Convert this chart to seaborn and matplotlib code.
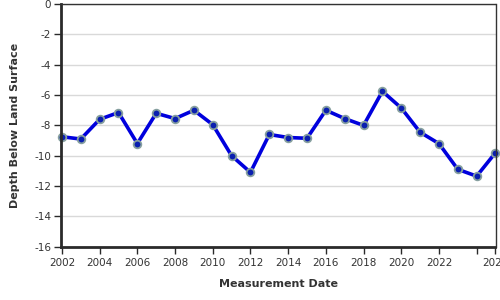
import matplotlib
matplotlib.use("Agg")
import matplotlib.pyplot as plt
import seaborn as sns
import pandas as pd

years = [2002, 2003, 2004, 2005, 2006, 2007, 2008, 2009, 2010, 2011, 2012, 2013,
         2014, 2015, 2016, 2017, 2018, 2019, 2020, 2021, 2022, 2023, 2024, 2025]
depth = [-8.75, -8.9, -7.6, -7.15, -9.2, -7.2, -7.55, -7.0, -7.95, -10.0, -11.1, -8.6,
         -8.8, -8.85, -7.0, -7.55, -8.0, -5.75, -6.85, -8.45, -9.2, -10.9, -11.35, -9.8]
xtick_vals = [2002, 2004, 2006, 2008, 2010, 2012, 2014, 2016, 2018, 2020, 2022, 2024, 2025]
xtick_labels = ["2002", "2004", "2006", "2008", "2010", "2012", "2014", "2016", "2018",
                "2020", "2022", "", "2025"]
ytick_vals = [0, -2, -4, -6, -8, -10, -12, -14, -16]

df = pd.DataFrame({"year": years, "depth": depth})

sns.set_style("white")
plt.rcParams['font.family'] = ['DejaVu Sans']

fig = plt.figure(figsize=(5, 3), dpi=100)
ax = fig.add_axes([0.122, 0.178, 0.869, 0.808])

ax.grid(axis="y", color="#d9d9d9", linewidth=1)
ax.set_axisbelow(True)

sns.lineplot(data=df, x="year", y="depth", ax=ax, color="#0000dd", linewidth=2.6,
             marker="o", markersize=5.5, markerfacecolor="#0a1fb0",
             markeredgecolor="#869f9f", markeredgewidth=1.3, clip_on=False)

ax.set_xlim(2001.95, 2025.0)
ax.set_ylim(-16, 0)
ax.set_xticks(xtick_vals)
ax.set_xticklabels(xtick_labels)
ax.set_yticks(ytick_vals)
ax.set_yticklabels([str(v) for v in ytick_vals])

for s in ["left", "bottom"]:
    ax.spines[s].set_visible(True)
    ax.spines[s].set_color("#2a2a2a")
    ax.spines[s].set_linewidth(2)
for s in ["top", "right"]:
    ax.spines[s].set_visible(True)
    ax.spines[s].set_color("#333333")
    ax.spines[s].set_linewidth(1)

ax.tick_params(axis="both", which="both", length=5, width=1, color="#2a2a2a",
               labelsize=7.5, labelcolor="#333333", direction="out")
ax.tick_params(axis="x", bottom=True, pad=3)
ax.tick_params(axis="y", left=True, pad=2)

ax.set_xlabel("Measurement Date", fontsize=8, fontweight="bold", color="#333333", labelpad=8)
ax.set_ylabel("Depth Below Land Surface", fontsize=8, fontweight="bold", color="#333333", labelpad=10)

fig.savefig("out.png", dpi=100)
